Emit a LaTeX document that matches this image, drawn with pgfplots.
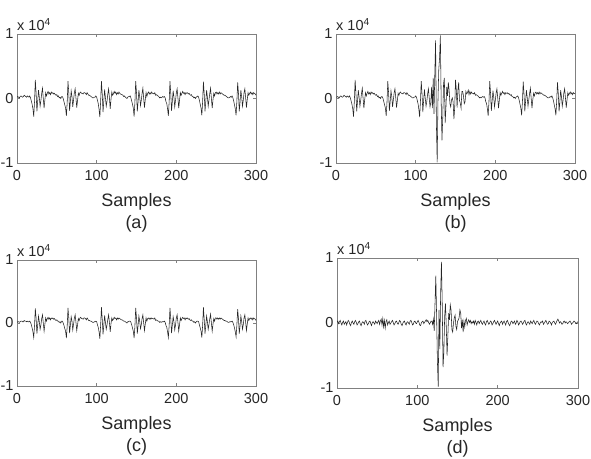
\documentclass[border=0pt]{standalone}
\usepackage{fontspec}
\setmainfont{Liberation Sans}
\usepackage{pgfplots}
\pgfplotsset{compat=1.18}
\usepackage{pgfplotstable}

% (a) original signal, units of 10^4
\pgfplotstableread[header=false,row sep=\\]{
0.02\\0.03\\0.02\\0.01\\0.03\\0.04\\0.03\\0.02\\0.03\\0.05\\0.04\\0.03\\0.02\\0.04\\0.03\\
0.02\\0.04\\0.01\\-0.04\\-0.09\\-0.16\\-0.28\\-0.05\\0.29\\0.08\\-0.20\\-0.04\\0.13\\0.02\\-0.12\\-0.03\\0.08\\0.16\\0.00\\-0.15\\-0.02\\0.09\\0.04\\0.08\\0.11\\0.07\\0.09\\0.06\\0.10\\0.08\\0.09\\0.07\\0.08\\0.06\\0.05\\0.06\\0.03\\0.04\\0.01\\0.02\\0.00\\
0.03\\0.03\\0.00\\-0.05\\-0.10\\-0.15\\-0.27\\-0.06\\0.27\\0.09\\-0.19\\-0.05\\0.12\\0.03\\-0.13\\-0.02\\0.09\\0.15\\0.01\\-0.14\\-0.03\\0.08\\0.05\\0.09\\0.10\\0.08\\0.08\\0.07\\0.09\\0.09\\0.08\\0.06\\0.09\\0.07\\0.05\\0.05\\0.04\\0.03\\0.02\\0.01\\0.01\\0.02\\
0.02\\0.04\\0.02\\-0.03\\-0.08\\-0.17\\-0.29\\-0.04\\0.27\\0.07\\-0.21\\-0.03\\0.14\\0.01\\-0.12\\-0.04\\0.07\\0.15\\0.01\\-0.16\\-0.01\\0.10\\0.05\\0.07\\0.11\\0.08\\0.10\\0.06\\0.09\\0.07\\0.10\\0.08\\0.07\\0.06\\0.06\\0.05\\0.03\\0.04\\0.02\\0.01\\0.00\\0.02\\0.03\\
0.03\\0.04\\0.01\\-0.04\\-0.09\\-0.15\\-0.28\\-0.06\\0.27\\0.09\\-0.20\\-0.05\\0.13\\0.03\\-0.11\\-0.03\\0.08\\0.16\\0.00\\-0.14\\-0.02\\0.09\\0.03\\0.08\\0.10\\0.07\\0.09\\0.07\\0.10\\0.08\\0.08\\0.07\\0.09\\0.05\\0.06\\0.05\\0.04\\0.03\\0.01\\0.02\\0.01\\0.02\\0.03\\
0.02\\0.03\\0.01\\-0.05\\-0.08\\-0.16\\-0.27\\-0.05\\0.27\\0.08\\-0.19\\-0.04\\0.12\\0.02\\-0.13\\-0.03\\0.09\\0.15\\0.01\\-0.15\\-0.03\\0.09\\0.05\\0.08\\0.11\\0.08\\0.09\\0.06\\0.09\\0.08\\0.09\\0.07\\0.08\\0.06\\0.05\\0.06\\0.03\\0.03\\0.01\\0.02\\0.00\\0.02\\
0.03\\0.04\\0.02\\-0.03\\-0.09\\-0.15\\-0.26\\-0.05\\0.26\\0.07\\-0.20\\-0.04\\0.13\\0.02\\-0.12\\-0.02\\0.08\\0.16\\0.00\\-0.15\\-0.02\\0.08\\0.04\\0.09\\0.10\\0.07\\0.09\\0.07\\0.10\\0.07\\0.09\\0.08\\0.07\\0.06\\0.05\\0.05\\0.04\\0.03\\0.02\\0.01\\0.01\\0.02\\0.03\\
0.02\\0.04\\0.01\\-0.04\\-0.10\\-0.16\\-0.26\\-0.04\\0.25\\0.08\\-0.20\\-0.05\\0.13\\0.03\\-0.12\\-0.03\\0.09\\0.15\\0.01\\-0.14\\-0.02\\0.09\\0.05\\0.08\\0.10\\0.07\\0.09\\0.06\\0.09\\0.08\\0.07\\0.05\\
}\tablea

% (b) mixture
\pgfplotstableread[header=false,row sep=\\]{
0.02\\
0.02\\0.03\\0.02\\0.01\\0.03\\0.04\\0.03\\0.02\\0.03\\0.05\\0.04\\0.03\\0.02\\0.04\\0.03\\
0.02\\0.04\\0.01\\-0.04\\-0.09\\-0.16\\-0.28\\-0.05\\0.29\\0.08\\-0.20\\-0.04\\0.13\\0.02\\-0.12\\-0.03\\0.08\\0.16\\0.00\\-0.15\\-0.02\\0.09\\0.04\\0.08\\0.11\\0.07\\0.09\\0.06\\0.10\\0.08\\0.09\\0.07\\0.08\\0.06\\0.05\\0.06\\0.03\\0.04\\0.01\\0.02\\0.00\\
0.03\\0.03\\0.00\\-0.05\\-0.10\\-0.15\\-0.27\\-0.06\\0.27\\0.09\\-0.19\\-0.05\\0.12\\0.03\\-0.13\\-0.02\\0.09\\0.15\\0.01\\-0.14\\-0.03\\0.08\\0.05\\0.09\\0.10\\0.08\\0.08\\0.07\\0.09\\0.09\\0.08\\0.06\\0.09\\0.07\\0.05\\0.05\\0.04\\0.03\\0.02\\0.01\\0.01\\0.02\\
0.02\\0.04\\0.02\\-0.03\\-0.08\\-0.17\\-0.29\\-0.04\\0.27\\0.07\\-0.21\\-0.03\\0.14\\0.01\\-0.12\\-0.04\\0.07\\0.15\\0.01\\
-0.13\\-0.06\\0.18\\-0.15\\0.32\\-0.24\\0.38\\0.90\\-0.39\\-0.99\\
-0.03\\0.45\\0.63\\0.98\\-0.04\\-0.65\\-0.30\\0.23\\0.32\\-0.38\\
-0.14\\0.18\\0.04\\0.25\\0.13\\-0.08\\-0.13\\-0.02\\0.01\\-0.05\\
-0.32\\-0.14\\0.29\\0.14\\-0.14\\0.13\\0.25\\-0.03\\-0.07\\-0.15\\
0.11\\0.11\\0.04\\-0.08\\-0.05\\0.11\\0.07\\0.09\\0.13\\0.06\\0.11\\
0.07\\0.10\\0.08\\0.08\\0.07\\0.09\\0.05\\0.06\\0.05\\0.04\\0.03\\0.01\\0.02\\0.01\\0.02\\0.03\\
0.02\\0.03\\0.01\\-0.05\\-0.08\\-0.16\\-0.27\\-0.05\\0.27\\0.08\\-0.19\\-0.04\\0.12\\0.02\\-0.13\\-0.03\\0.09\\0.15\\0.01\\-0.15\\-0.03\\0.09\\0.05\\0.08\\0.11\\0.08\\0.09\\0.06\\0.09\\0.08\\0.09\\0.07\\0.08\\0.06\\0.05\\0.06\\0.03\\0.03\\0.01\\0.02\\0.00\\0.02\\
0.03\\0.04\\0.02\\-0.03\\-0.09\\-0.15\\-0.26\\-0.05\\0.26\\0.07\\-0.20\\-0.04\\0.13\\0.02\\-0.12\\-0.02\\0.08\\0.16\\0.00\\-0.15\\-0.02\\0.08\\0.04\\0.09\\0.10\\0.07\\0.09\\0.07\\0.10\\0.07\\0.09\\0.08\\0.07\\0.06\\0.05\\0.05\\0.04\\0.03\\0.02\\0.01\\0.01\\0.02\\0.03\\
0.02\\0.04\\0.01\\-0.04\\-0.10\\-0.16\\-0.26\\-0.04\\0.25\\0.08\\-0.20\\-0.05\\0.13\\0.03\\-0.12\\-0.03\\0.09\\0.15\\0.01\\-0.14\\-0.02\\0.09\\0.05\\0.08\\0.10\\0.07\\0.09\\0.06\\0.09\\0.08\\0.07\\
}\tableb

% (c) recovered signal
\pgfplotstableread[header=false,row sep=\\]{
0.01\\0.02\\0.02\\0.01\\0.02\\0.03\\0.03\\0.02\\0.02\\0.04\\0.03\\0.03\\0.02\\0.03\\0.02\\
0.02\\0.03\\0.01\\-0.03\\-0.08\\-0.14\\-0.23\\-0.04\\0.23\\0.07\\-0.17\\-0.03\\0.11\\0.02\\-0.10\\-0.03\\0.07\\0.13\\0.00\\-0.13\\-0.02\\0.08\\0.03\\0.07\\0.09\\0.06\\0.08\\0.05\\0.08\\0.07\\0.08\\0.06\\0.07\\0.05\\0.04\\0.05\\0.03\\0.03\\0.01\\0.02\\0.00\\
0.03\\0.03\\0.00\\-0.04\\-0.09\\-0.13\\-0.24\\-0.05\\0.24\\0.08\\-0.16\\-0.04\\0.10\\0.03\\-0.11\\-0.02\\0.08\\0.13\\0.01\\-0.12\\-0.03\\0.07\\0.04\\0.08\\0.09\\0.07\\0.07\\0.06\\0.08\\0.08\\0.07\\0.05\\0.08\\0.06\\0.04\\0.04\\0.03\\0.03\\0.02\\0.01\\0.01\\0.02\\
0.02\\0.03\\0.02\\-0.03\\-0.07\\-0.14\\-0.25\\-0.03\\0.25\\0.06\\-0.18\\-0.03\\0.12\\0.01\\-0.10\\-0.03\\0.06\\0.13\\0.01\\-0.14\\-0.01\\0.08\\0.04\\0.06\\0.09\\0.07\\0.08\\0.05\\0.08\\0.06\\0.08\\0.07\\0.06\\0.05\\0.05\\0.04\\0.03\\0.03\\0.02\\0.01\\0.00\\0.02\\0.02\\
0.03\\0.03\\0.01\\-0.03\\-0.08\\-0.13\\-0.24\\-0.05\\0.24\\0.08\\-0.17\\-0.04\\0.11\\0.03\\-0.09\\-0.03\\0.07\\0.13\\0.00\\-0.12\\-0.02\\0.08\\0.03\\0.07\\0.08\\0.06\\0.08\\0.06\\0.08\\0.07\\0.07\\0.06\\0.08\\0.04\\0.05\\0.04\\0.03\\0.03\\0.01\\0.02\\0.01\\0.02\\0.02\\
0.02\\0.03\\0.01\\-0.04\\-0.07\\-0.14\\-0.23\\-0.04\\0.24\\0.07\\-0.16\\-0.03\\0.10\\0.02\\-0.11\\-0.03\\0.08\\0.13\\0.01\\-0.13\\-0.03\\0.08\\0.04\\0.07\\0.09\\0.07\\0.08\\0.05\\0.08\\0.07\\0.08\\0.06\\0.07\\0.05\\0.04\\0.05\\0.03\\0.03\\0.01\\0.02\\0.00\\0.02\\
0.03\\0.03\\0.02\\-0.03\\-0.08\\-0.13\\-0.23\\-0.04\\0.25\\0.06\\-0.17\\-0.03\\0.11\\0.02\\-0.10\\-0.02\\0.07\\0.14\\0.00\\-0.13\\-0.02\\0.07\\0.03\\0.08\\0.08\\0.06\\0.08\\0.06\\0.08\\0.06\\0.08\\0.07\\0.06\\0.05\\0.04\\0.04\\0.03\\0.03\\0.02\\0.01\\0.01\\0.02\\0.02\\
0.02\\0.03\\0.01\\-0.03\\-0.08\\-0.14\\-0.22\\-0.03\\0.22\\0.07\\-0.17\\-0.04\\0.11\\0.03\\-0.10\\-0.03\\0.08\\0.13\\0.01\\-0.12\\-0.02\\0.08\\0.04\\0.07\\0.08\\0.06\\0.08\\0.05\\0.08\\0.07\\0.06\\0.04\\
}\tablec

% (d) recovered interference
\pgfplotstableread[header=false,row sep=\\]{
0.01\\0.03\\-0.01\\0.02\\0.04\\0.00\\-0.03\\0.01\\0.03\\-0.02\\
0.00\\0.02\\-0.03\\0.01\\0.04\\0.02\\-0.02\\-0.04\\0.01\\0.03\\
0.00\\-0.02\\0.02\\0.04\\0.01\\-0.03\\-0.01\\0.02\\0.03\\-0.02\\
-0.04\\0.00\\0.02\\0.01\\-0.02\\0.03\\0.04\\0.00\\-0.03\\-0.01\\
0.02\\0.03\\-0.01\\-0.04\\0.01\\0.02\\0.00\\-0.02\\0.03\\0.01\\
-0.01\\0.02\\0.04\\-0.02\\0.03\\0.06\\-0.03\\0.07\\-0.06\\0.04\\
-0.08\\0.02\\0.05\\-0.03\\0.01\\0.03\\-0.02\\0.00\\0.02\\0.04\\
0.01\\-0.03\\-0.01\\0.02\\0.03\\0.00\\-0.02\\0.01\\0.04\\0.02\\
-0.02\\-0.04\\0.00\\0.02\\0.03\\-0.01\\-0.03\\0.01\\0.02\\0.00\\
-0.02\\0.03\\0.04\\0.01\\-0.03\\-0.02\\0.02\\0.03\\0.00\\-0.01\\
0.02\\0.04\\0.01\\-0.03\\-0.04\\0.00\\0.02\\0.03\\-0.01\\0.01\\
0.03\\0.05\\0.02\\0.04\\0.01\\-0.02\\0.00\\0.03\\
0.03\\-0.02\\0.06\\-0.12\\0.30\\0.73\\0.10\\-0.60\\-0.98\\0.20\\
-0.40\\0.45\\0.94\\0.30\\-0.68\\-0.45\\0.10\\0.30\\-0.05\\-0.50\\
-0.20\\0.15\\0.05\\0.28\\0.20\\-0.10\\-0.14\\0.00\\0.08\\0.12\\
-0.05\\-0.10\\0.02\\0.05\\0.08\\0.20\\0.15\\-0.08\\0.05\\-0.14\\
0.03\\-0.06\\0.04\\0.07\\-0.03\\0.02\\0.05\\0.01\\0.04\\-0.01\\0.02\\
0.00\\0.03\\-0.02\\0.04\\0.01\\-0.03\\0.02\\0.03\\-0.01\\0.02\\
0.04\\0.00\\-0.02\\0.01\\0.03\\-0.01\\-0.03\\0.02\\0.04\\0.01\\
-0.02\\0.00\\0.03\\0.02\\-0.03\\-0.01\\0.02\\0.04\\0.01\\-0.02\\
0.01\\0.03\\-0.01\\-0.04\\0.00\\0.02\\0.03\\-0.02\\0.01\\0.03\\
0.00\\-0.03\\0.02\\0.04\\0.01\\-0.02\\-0.04\\0.00\\0.03\\0.02\\
-0.01\\0.01\\0.03\\-0.02\\0.00\\0.04\\0.02\\-0.03\\-0.01\\0.02\\
0.03\\0.01\\-0.02\\0.00\\0.03\\0.04\\-0.01\\-0.03\\0.01\\0.02\\
0.00\\-0.02\\0.03\\0.01\\-0.01\\0.02\\0.04\\0.00\\-0.02\\0.01\\
0.03\\0.02\\-0.01\\-0.03\\0.00\\0.02\\0.01\\0.03\\-0.02\\0.00\\
0.02\\0.04\\0.01\\-0.02\\-0.01\\0.03\\0.02\\0.00\\-0.03\\0.01\\
0.02\\0.03\\0.00\\-0.02\\0.01\\0.04\\0.06\\0.03\\0.00\\0.02\\
0.01\\-0.02\\-0.01\\0.02\\0.03\\0.00\\0.02\\0.01\\-0.01\\0.00\\
0.02\\0.03\\0.01\\-0.02\\0.00\\0.01\\0.03\\0.02\\0.00\\-0.01\\0.01\\0.02\\
}\tabled

\pgfplotsset{
  panel/.style={
    scale only axis,
    xmin=0, xmax=300, ymin=-1, ymax=1,
    xtick={0,100,200,300}, xticklabels={0,100,200,300},
    ytick={-1,0,1}, yticklabels={-1,0,1},
    tick align=inside, major tick length=3pt,
    axis line style={black!50, line width=0.6pt},
    every tick/.style={black!50, line width=0.6pt},
    ticklabel style={font=\fontsize{14.5}{14.5}\selectfont, text=black!85},
    xticklabel style={yshift=-4pt},
    xlabel style={font=\fontsize{18}{22}\selectfont, align=center, text=black!85, yshift=-6pt},
    clip mode=individual,
  },
  sig/.style={black!85, line width=0.55pt, mark=none},
}
\newcommand{\scalelab}{\node[anchor=south west, inner sep=0pt, font=\fontsize{14.5}{14.5}\selectfont, text=black!85] at ([yshift=3pt]rel axis cs:0,1) {x 10\textsuperscript{4}};}

\begin{document}
\begin{tikzpicture}[x=1pt,y=1pt]
\useasboundingbox (0,0) rectangle (591,458);
\begin{axis}[panel, at={(17pt,295pt)}, anchor=south west, width=239pt, height=129pt, xlabel={Samples\\(a)}]
\addplot[sig] table[x expr=\coordindex, y index=0] {\tablea};
\scalelab
\end{axis}
\begin{axis}[panel, at={(336pt,295pt)}, anchor=south west, width=239pt, height=129pt, xlabel={Samples\\(b)}]
\addplot[sig] table[x expr=\coordindex, y index=0] {\tableb};
\scalelab
\end{axis}
\begin{axis}[panel, at={(17pt,72pt)}, anchor=south west, width=239pt, height=126pt, xlabel={Samples\\(c)}]
\addplot[sig] table[x expr=\coordindex, y index=0] {\tablec};
\scalelab
\end{axis}
\begin{axis}[panel, at={(337pt,70pt)}, anchor=south west, width=241pt, height=130pt, xlabel={Samples\\(d)}]
\addplot[sig] table[x expr=\coordindex, y index=0] {\tabled};
\scalelab
\end{axis}
\end{tikzpicture}
\end{document}
